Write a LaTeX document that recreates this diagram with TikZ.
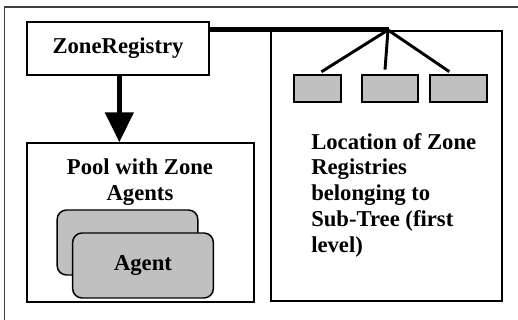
\documentclass[tikz,border=0pt]{standalone}
\usepackage{fontspec}
\setmainfont{Liberation Serif}
\usepackage{tikz}
\usetikzlibrary{arrows.meta}

\definecolor{boxgray}{RGB}{192,192,192}

\begin{document}
\begin{tikzpicture}[x=0.75pt,y=-0.75pt,
    font=\bfseries\fontsize{17}{19.3}\selectfont]

        \useasboundingbox (0,0) rectangle (518,320);
        \begin{scope}
          \clip (0,0) rectangle (518,320);
          \draw[black!75, line width=0.8pt] (4.5,7) rectangle (540,340);
        \end{scope}

        \begin{scope}[every node/.style={rectangle, draw, line width=1.1pt, inner sep=0pt}]
          \node (zr)   at (118,48.5)   [minimum width=136.5pt, minimum height=39.75pt] {ZoneRegistry};
          \node (pool) at (140.5,222.5) [minimum width=170.25pt, minimum height=119.25pt] {};
          \node (loc)  at (386.5,166)  [minimum width=173.25pt, minimum height=202.5pt] {};
        \end{scope}

        \begin{scope}[every node/.style={rectangle, draw, line width=1.1pt, fill=boxgray,
                      minimum height=20.25pt, inner sep=0pt}]
          \node (reg1) at (317.5,88.5) [minimum width=35.25pt] {};
          \node (reg2) at (390,88.5)   [minimum width=42pt] {};
          \node (reg3) at (458.5,88.5) [minimum width=42.75pt] {};
        \end{scope}

        \begin{scope}[every node/.style={rectangle, draw, line width=1.1pt, fill=boxgray,
                      rounded corners=7pt, minimum width=105.5pt, minimum height=48.75pt}]
          \node (agb) at (127.5,242.5) {};
          \node (agf) at (143,265.5)   {Agent};
        \end{scope}

        \node (pooltxt) at (140,182) [align=center] {Pool with Zone\\Agents};
        \node (loctxt)  at (311,195) [anchor=west, align=left, inner sep=0pt]
          {Location of Zone\\Registries\\belonging to\\Sub-Tree (first\\level)};

        \coordinate (fan) at (388,30);

        % links
        \draw[line width=3.75pt] (zr.east |- fan) -- ([xshift=1pt]fan);
        \begin{scope}[line width=2.2pt, shorten >=3.5pt]
          \draw (fan) -- (reg1.north);
          \draw (fan) -- ([xshift=-4pt]reg2.north);
          \draw (fan) -- ([xshift=-4pt]reg3.north);
        \end{scope}
        \draw[line width=3.75pt, -{Triangle[width=21pt,length=22.5pt]}]
          ([xshift=1pt]zr.south) -- ([xshift=1pt]zr.south |- pool.north);

      \end{tikzpicture}
\end{document}
